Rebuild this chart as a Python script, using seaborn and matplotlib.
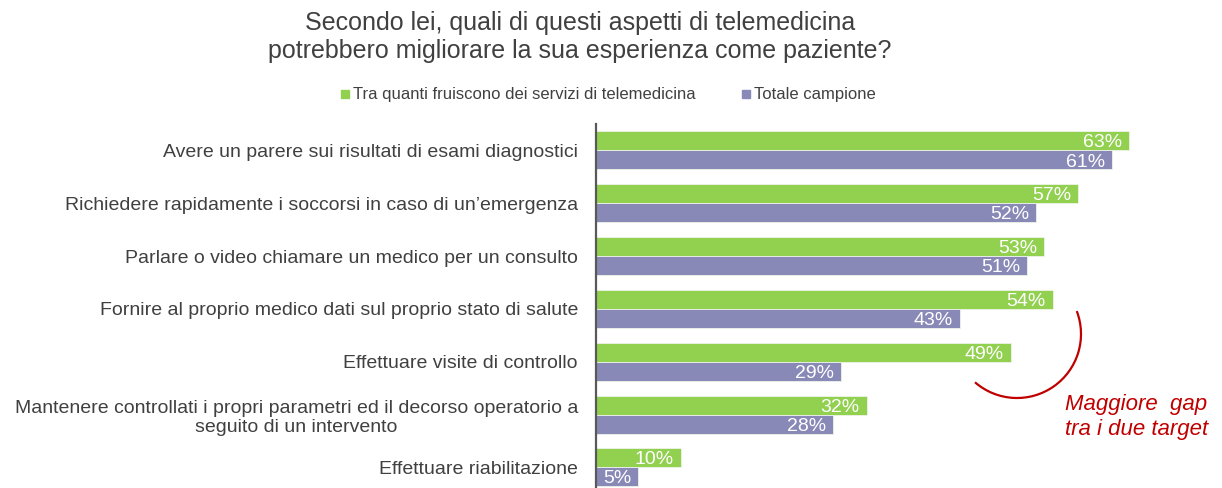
import matplotlib.pyplot as plt
import numpy as np
import pandas as pd
import seaborn as sns
from matplotlib.lines import Line2D
from matplotlib.patches import Arc

# --------------------------------------------------
categories = [
    'Avere un parere sui risultati di esami diagnostici',
    'Richiedere rapidamente i soccorsi in caso di un\u2019emergenza',
    'Parlare o video chiamare un medico per un consulto',
    'Fornire al proprio medico dati sul proprio stato di salute',
    'Effettuare visite di controllo',
    'Mantenere controllati i propri parametri ed il decorso operatorio a\nseguito di un intervento',
    'Effettuare riabilitazione',
]
series = ['Tra quanti fruiscono dei servizi di telemedicina', 'Totale campione']
fruitori = [63, 57, 53, 54, 49, 32, 10]
totale = [61, 52, 51, 43, 29, 28, 5]
colors = ['#92D050', '#8989B8']

title = ('Secondo lei, quali di questi aspetti di telemedicina\n'
         'potrebbero migliorare la sua esperienza come paziente?')
note = 'Maggiore  gap\ntra i due target'

# --------------------------------------------------
df = pd.DataFrame({
    'aspetto': categories * 2,
    'serie': [series[0]] * len(categories) + [series[1]] * len(categories),
    'valore': fruitori + totale,
})

sns.set_theme(style='white')
plt.rcParams['font.family'] = ['Liberation Sans', 'DejaVu Sans']
text_col = '#404040'

fig = plt.figure(figsize=(12.22, 4.88), dpi=100)
ax = fig.add_axes([596 / 1222, 0, 626 / 1222, 364 / 488])

sns.barplot(data=df, y='aspetto', x='valore', hue='serie', orient='h',
            palette=dict(zip(series, colors)), width=0.72, saturation=1,
            edgecolor='#eef4e8', linewidth=0.6, ax=ax, legend=False)

ax.set_xlim(0, 74)
ax.set_ylim(6.39, -0.5)
ax.set_xlabel('')
ax.set_ylabel('')
ax.set_xticks([])
sns.despine(ax=ax, top=True, right=True, bottom=True)
ax.spines['left'].set_color('#595959')
ax.spines['left'].set_linewidth(1.6)
ax.tick_params(axis='y', length=0, pad=13, labelsize=14, labelcolor=text_col)
for lab in ax.get_yticklabels():
    lab.set_multialignment('center')

for cont, vals in zip(ax.containers, [fruitori, totale]):
    txts = ax.bar_label(cont, labels=[f'{v}%' for v in vals], padding=-5,
                        color='white', fontsize=14)
    for t in txts:
        t.set_ha('right')
        t.xyann = (t.xyann[0], -1.5)

fig.text(580 / 1222, 1 - 37 / 488, title, ha='center', va='center',
         fontsize=18, color=text_col, linespacing=1.2)

handles = [Line2D([], [], marker='s', linestyle='none', markersize=6,
                  markerfacecolor=c, markeredgecolor=c) for c in colors]
fig.legend(handles, series, loc='center', ncol=2, frameon=False,
           bbox_to_anchor=(607 / 1222, 1 - 95 / 488), fontsize=12,
           handletextpad=0.1, columnspacing=2.6, labelcolor=text_col,
           handlelength=0.8)

# annotation arc + note (drawn in inches so it stays a circle)
arc = Arc((10.17, (488 - 334) / 100), 1.28, 1.28,
          theta1=-131, theta2=21, transform=fig.dpi_scale_trans,
          color='#C00000', linewidth=1.6)
fig.add_artist(arc)
fig.text(1065 / 1222, 1 - 417 / 488, note, ha='left', va='center',
         fontsize=16, style='italic', color='#C00000', linespacing=1.25)

fig.savefig('out.png', dpi=100)
